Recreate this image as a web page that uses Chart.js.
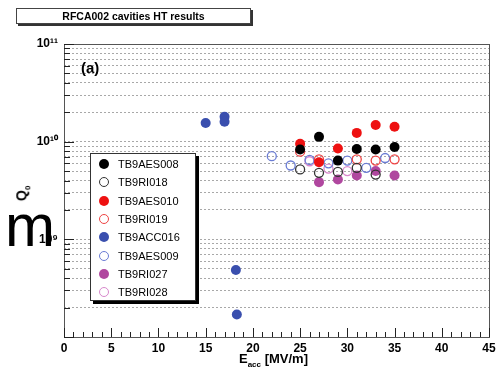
<!DOCTYPE html>
<html>
<head>
<meta charset="utf-8">
<script src="https://cdn.jsdelivr.net/npm/chart.js@4/dist/chart.umd.min.js"></script>
<style>
  body { margin: 0; background: #fff; font-family: "Liberation Sans", Arial, sans-serif; }
  #wrap { position: relative; width: 501px; height: 372px; overflow: hidden; }
  #title { position: absolute; left: 16px; top: 8px; width: 233px; height: 14px; border: 1px solid #444;
           box-shadow: 2px 2px 0 #333; font-weight: bold; font-size: 10.5px; line-height: 14px; text-align: center; }
  #tag { position: absolute; left: 81px; top: 59px; font-weight: bold; font-size: 15px; }
  #ylab { position: absolute; left: 15px; top: 184px; font-weight: bold; font-size: 14px; transform: rotate(-90deg); }
  #ylab sub, #xlab sub { font-size: 8px; }
  #xlab { position: absolute; left: 239px; top: 351px; font-weight: bold; font-size: 13px; }
  #bigm { position: absolute; left: 5px; top: 196px; font-size: 60px; line-height: 60px; }
  #legend { position: absolute; left: 90px; top: 153px; width: 104px; height: 146px; background: #fff;
            border: 1px solid #333; box-shadow: 3px 3px 0 #000; }
  .row { position: absolute; left: 0; height: 16px; font-size: 11px; line-height: 16px; }
  .dot { position: absolute; left: 8px; top: 3px; width: 10px; height: 10px; border-radius: 50%; box-sizing: border-box; }
  .lbl { position: absolute; left: 27px; top: 0; white-space: nowrap; }
</style>
</head>
<body>
<div id="wrap">
  <canvas id="chart" width="501" height="372"></canvas>
  <div id="title">RFCA002 cavities HT results</div>
  <div id="tag">(a)</div>
  <div id="ylab">Q<sub>0</sub></div>
  <div id="xlab">E<sub>acc</sub> [MV/m]</div>
  <div id="legend"></div>
  <div id="bigm">m</div>
</div>
<script>
// --- data ---
const names = ['TB9AES008', 'TB9RI018', 'TB9AES010', 'TB9RI019', 'TB9ACC016', 'TB9AES009', 'TB9RI027', 'TB9RI028'];

const eAES008 = [25, 27, 29, 31, 33, 35];
const qAES008 = [8.3e9, 1.12e10, 6.4e9, 8.4e9, 8.3e9, 8.8e9];
const eRI018 = [25, 27, 29, 31, 33];
const qRI018 = [5.2e9, 4.8e9, 4.9e9, 5.4e9, 4.6e9];
const eAES010 = [25, 27, 29, 31, 33, 35];
const qAES010 = [9.5e9, 6.15e9, 8.5e9, 1.23e10, 1.48e10, 1.42e10];
const eRI019 = [25, 27, 31, 33, 35];
const qRI019 = [7.9e9, 6.6e9, 6.6e9, 6.4e9, 6.6e9];
const eACC016 = [15, 17, 17, 18.2, 18.3];
const qACC016 = [1.55e10, 1.8e10, 1.6e10, 4.85e8, 1.7e8];
const eAES009 = [22, 24, 26, 28, 30, 32, 34];
const qAES009 = [7.1e9, 5.7e9, 6.5e9, 6.0e9, 6.4e9, 5.4e9, 6.8e9];
const eRI027 = [27, 29, 31, 33, 35];
const qRI027 = [3.85e9, 4.1e9, 4.5e9, 5.0e9, 4.5e9];
const eRI028 = [26, 28, 30];
const qRI028 = [6.3e9, 5.3e9, 5.0e9];

const decades = [1e8, 1e9, 1e10, 1e11];
const labelledDecades = [1e9, 1e10, 1e11];
const xTicks = [0, 5, 10, 15, 20, 25, 30, 35, 40, 45];

const colors = ['#000000', '#333333', '#ee1111', '#ee4444', '#3a4fae', '#6a7cd4', '#b0479f', '#d888cc'];
const filled = [true, false, true, false, true, false, true, false];
const series = [
  [eAES008, qAES008], [eRI018, qRI018], [eAES010, qAES010], [eRI019, qRI019],
  [eACC016, qACC016], [eAES009, qAES009], [eRI027, qRI027], [eRI028, qRI028]
];

// minor log ticks 1..9 x 10^n
const yTicks = [];
decades.forEach(d => {
  for (let k = 1; k <= 9; k++) if (d * k <= 1e11) yTicks.push(d * k);
});

const supers = { '9': '⁹', '10': '¹⁰', '11': '¹¹' };

const datasets = series.map((s, i) => ({
  label: names[i],
  data: s[0].map((e, j) => ({ x: e, y: s[1][j] })),
  pointRadius: filled[i] ? 5 : 4.5,
  pointBorderWidth: filled[i] ? 0 : 1.3,
  pointBackgroundColor: filled[i] ? colors[i] : 'rgba(0,0,0,0)',
  pointBorderColor: colors[i],
  showLine: false
}));

// legend
const legend = document.getElementById('legend');
names.forEach((n, i) => {
  const row = document.createElement('div');
  row.className = 'row';
  row.style.top = (2 + i * 18.3) + 'px';
  const dot = document.createElement('span');
  dot.className = 'dot';
  if (filled[i]) dot.style.background = colors[i];
  else dot.style.border = '1.3px solid ' + colors[i];
  const lbl = document.createElement('span');
  lbl.className = 'lbl';
  lbl.textContent = n;
  row.appendChild(dot); row.appendChild(lbl);
  legend.appendChild(row);
});

// frame + inside tick marks
const framePlugin = {
  id: 'frame',
  afterDraw(chart) {
    const { ctx, chartArea: a, scales: { x, y } } = chart;
    ctx.save();
    ctx.strokeStyle = '#555';
    ctx.lineWidth = 1;
    ctx.strokeRect(a.left + 0.5, a.top + 0.5, a.right - a.left, a.bottom - a.top);
    ctx.strokeStyle = '#222';
    ctx.beginPath();
    for (let v = 0; v <= 45; v++) {
      const px = Math.round(x.getPixelForValue(v)) + 0.5;
      const len = v % 5 === 0 ? 9 : 5;
      ctx.moveTo(px, a.bottom);
      ctx.lineTo(px, a.bottom - len);
    }
    yTicks.forEach(v => {
      const py = Math.round(y.getPixelForValue(v)) + 0.5;
      const len = decades.includes(v) ? 10 : 6;
      ctx.moveTo(a.left, py);
      ctx.lineTo(a.left + len, py);
    });
    ctx.stroke();
    ctx.restore();
  }
};

new Chart(document.getElementById('chart'), {
  type: 'scatter',
  data: { datasets },
  options: {
    responsive: false,
    animation: false,
    layout: { padding: { top: 44, right: 12, left: 0, bottom: 0 } },
    plugins: { legend: { display: false }, tooltip: { enabled: false } },
    scales: {
      x: {
        type: 'linear', min: 0, max: 45,
        afterBuildTicks: s => { s.ticks = xTicks.map(v => ({ value: v })); },
        afterFit: s => { s.height = 35; },
        grid: { display: false, drawTicks: false },
        border: { display: false },
        ticks: { color: '#000', padding: 4, maxRotation: 0, font: { family: 'Liberation Sans', weight: 'bold', size: 12 } }
      },
      y: {
        type: 'logarithmic', min: 1e8, max: 1e11,
        afterBuildTicks: s => { s.ticks = yTicks.map(v => ({ value: v })); },
        afterFit: s => { s.width = 64; },
        grid: { color: '#a8a8a8', lineWidth: 1, drawTicks: false },
        border: { display: false, dash: [2, 2] },
        ticks: {
          color: '#000', padding: 6, autoSkip: false,
          font: { family: 'Liberation Sans', weight: 'bold', size: 12 },
          callback: v => labelledDecades.includes(v) ? '10' + supers[String(Math.round(Math.log10(v)))] : ''
        }
      }
    }
  },
  plugins: [framePlugin]
});
</script>
</body>
</html>
